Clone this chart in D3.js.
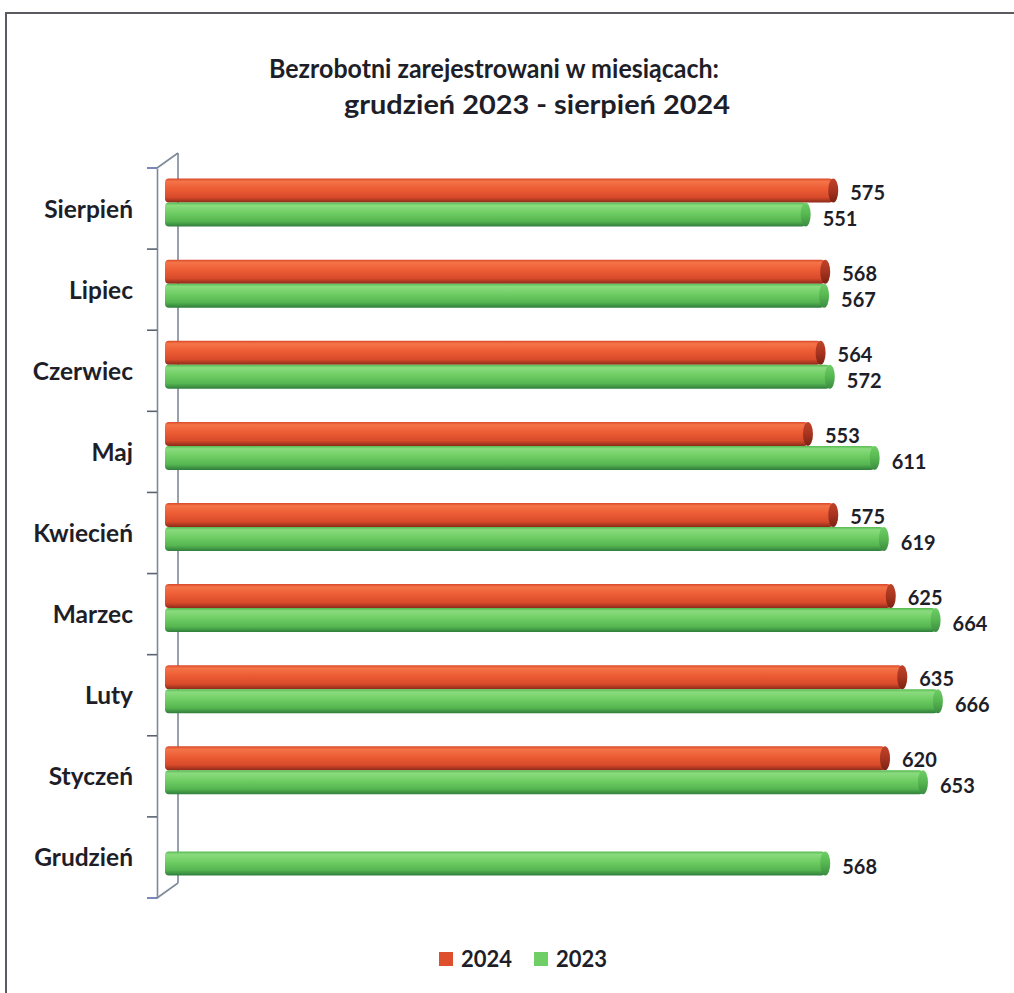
<!DOCTYPE html>
<html>
<head>
<meta charset="utf-8">
<script src="https://cdn.jsdelivr.net/npm/d3@7"></script>
<style>
  html, body { margin: 0; padding: 0; background: #fff; }
  svg { display: block; }
  text { font-family: Lato, "Open Sans", sans-serif; font-weight: bold; fill: #1e1e28; }
</style>
</head>
<body>
<svg id="chart" width="1014" height="993"></svg>
<script>
// ---- data ----
const categories = ["Sierpień", "Lipiec", "Czerwiec", "Maj", "Kwiecień", "Marzec", "Luty", "Styczeń", "Grudzień"];
const values2024 = [575, 568, 564, 553, 575, 625, 635, 620, null];
const values2023 = [551, 567, 572, 611, 619, 664, 666, 653, 568];
const seriesNames = ["2024", "2023"];
const titleLines = ["Bezrobotni zarejestrowani w miesiącach:", "grudzień 2023 - sierpień 2024"];

// ---- layout ----
const W = 1014, H = 993;
const svg = d3.select("#chart");
const defs = svg.append("defs");

function grad(id, stops) {
  const g = defs.append("linearGradient").attr("id", id)
    .attr("x1", 0).attr("y1", 0).attr("x2", 0).attr("y2", 1);
  stops.forEach(([o, c]) => g.append("stop").attr("offset", o).attr("stop-color", c));
}
grad("gRed", [[0, "#d9482a"], [0.12, "#f47448"], [0.4, "#ee5e36"], [0.78, "#d84a2a"], [1, "#8c2a1a"]]);
grad("gGreen", [[0, "#55b950"], [0.12, "#8adb7e"], [0.4, "#72cf66"], [0.78, "#55b550"], [1, "#2f7d3c"]]);
grad("gRedCap", [[0, "#c0432a"], [0.5, "#a8341f"], [1, "#7a2214"]]);
grad("gGreenCap", [[0, "#6fce66"], [0.5, "#56b650"], [1, "#3a8c40"]]);

// frame
svg.append("path").attr("d", `M6,${H} L6,13 L${W},13`)
  .attr("fill", "none").attr("stroke", "#5a5a60").attr("stroke-width", 2);

// title
svg.append("text").attr("x", 269).attr("y", 78)
  .attr("textLength", 450).attr("lengthAdjust", "spacingAndGlyphs")
  .style("font-size", "26.5px").text(titleLines[0]);
svg.append("text").attr("x", 344).attr("y", 114)
  .attr("textLength", 386).attr("lengthAdjust", "spacingAndGlyphs")
  .style("font-size", "26px").text(titleLines[1]);

// scales
const y = d3.scaleBand().domain(categories).range([168, 898]).paddingInner(0).paddingOuter(0);
const x = d3.scaleLinear().domain([0, 700]).range([177, 982]);
const depthX = 21, depthY = -15;
const frontX = 157;
const barH = 24;
const barStart = 165;
const capRx = 5;

// axis walls
const axisColor = "#7d8a9a";
svg.append("line").attr("x1", frontX + depthX).attr("x2", frontX + depthX)
  .attr("y1", 168 + depthY).attr("y2", 898 + depthY)
  .attr("stroke", axisColor).attr("stroke-width", 1.6);
svg.append("path")
  .attr("d", `M${frontX},168 L${frontX + depthX},${168 + depthY} M${frontX},898 L${frontX + depthX},${898 + depthY}`)
  .attr("stroke", axisColor).attr("stroke-width", 1.6).attr("fill", "none");

// front axis via d3.axisLeft
const axisG = svg.append("g").attr("transform", `translate(${frontX},0)`);
const yAxis = d3.axisLeft(y).tickSize(0).tickFormat("");
axisG.call(yAxis);
axisG.select(".domain").attr("stroke", axisColor).attr("stroke-width", 1.6);
const boundaries = categories.map(c => y(c)).concat([y.range()[1]]);
axisG.selectAll("line.b").data(boundaries).enter().append("line").attr("class", "b")
  .attr("x1", -10).attr("x2", 0).attr("y1", d => d).attr("y2", d => d)
  .attr("stroke", (d, i) => (i === 0 || i === boundaries.length - 1) ? "#5a6aa8" : "#5a6270")
  .attr("stroke-width", 1.6);

// category labels
svg.selectAll("text.cat").data(categories).enter().append("text").attr("class", "cat")
  .attr("x", 133).attr("y", d => y(d) + y.bandwidth() / 2 + 9)
  .attr("text-anchor", "end").style("font-size", "24.5px").text(d => d);

// bars
function drawSeries(vals, offsetTop, fillId, capId, labelDy, name) {
  const data = categories.map((c, i) => ({ c, v: vals[i] })).filter(d => d.v != null);
  const g = svg.append("g").attr("class", "series-" + name);
  data.forEach(d => {
    const yc = y(d.c) + y.bandwidth() / 2 - 6;
    const top = yc + offsetTop;
    const end = x(d.v);
    g.append("rect").attr("x", barStart).attr("y", top)
      .attr("width", end - capRx - barStart).attr("height", barH)
      .attr("rx", 4).attr("ry", 4)
      .attr("fill", `url(#${fillId})`);
    g.append("ellipse").attr("cx", end - capRx).attr("cy", top + barH / 2)
      .attr("rx", capRx).attr("ry", barH / 2)
      .attr("fill", `url(#${capId})`);
    g.append("text").attr("x", end + 12).attr("y", top + barH / 2 + 7 + labelDy)
      .style("font-size", "20px").text(d.v);
  });
}
drawSeries(values2024, -barH, "gRed", "gRedCap", 2, "2024");
drawSeries(values2023, 0, "gGreen", "gGreenCap", 4, "2023");

// legend
const legend = svg.append("g");
const legendItems = [
  { name: seriesNames[0], color: "#de4f2e", x: 439 },
  { name: seriesNames[1], color: "#6fcf66", x: 534 }
];
legendItems.forEach(it => {
  legend.append("rect").attr("x", it.x).attr("y", 952).attr("width", 14).attr("height", 14).attr("fill", it.color);
  legend.append("text").attr("x", it.x + 22).attr("y", 967).style("font-size", "22px").text(it.name);
});
</script>
</body>
</html>
